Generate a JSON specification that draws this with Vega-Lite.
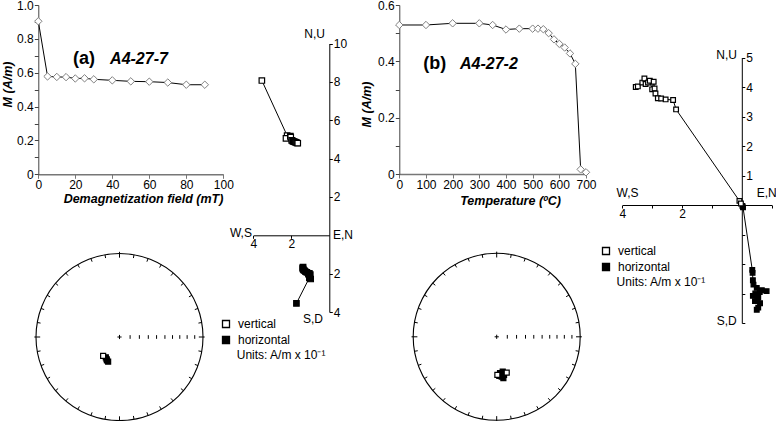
{
  "$schema": "https://vega.github.io/schema/vega-lite/v6.json",
  "width": 776,
  "height": 421,
  "autosize": "none",
  "padding": 0,
  "background": "white",
  "config": {
    "font": "Liberation Sans",
    "view": {"stroke": null},
    "axis": {"labelFont": "Liberation Sans", "labelFontSize": 12, "labelColor": "black", "grid": false, "domainColor": "black", "tickColor": "black", "titleFont": "Liberation Sans", "titleColor": "black", "labelFlush": false, "labelOverlap": false},
    "text": {"font": "Liberation Sans", "fontSize": 12, "color": "black"}
  },
  "datasets": {
    "afCurve": [
      {"field_mT": 0, "M": 0.904}, {"field_mT": 5, "M": 0.578}, {"field_mT": 10, "M": 0.575}, {"field_mT": 15, "M": 0.574},
      {"field_mT": 20, "M": 0.566}, {"field_mT": 25, "M": 0.567}, {"field_mT": 30, "M": 0.561}, {"field_mT": 40, "M": 0.555},
      {"field_mT": 50, "M": 0.549}, {"field_mT": 60, "M": 0.547}, {"field_mT": 70, "M": 0.542}, {"field_mT": 80, "M": 0.529},
      {"field_mT": 90, "M": 0.529}
    ],
    "thCurve": [
      {"T": 0, "M": 0.529}, {"T": 100, "M": 0.529}, {"T": 200, "M": 0.535}, {"T": 300, "M": 0.535}, {"T": 350, "M": 0.529},
      {"T": 400, "M": 0.513}, {"T": 450, "M": 0.516}, {"T": 500, "M": 0.516}, {"T": 520, "M": 0.516}, {"T": 540, "M": 0.514},
      {"T": 560, "M": 0.5}, {"T": 580, "M": 0.478}, {"T": 600, "M": 0.462}, {"T": 620, "M": 0.449}, {"T": 640, "M": 0.428},
      {"T": 660, "M": 0.391}, {"T": 680, "M": 0.0165}, {"T": 700, "M": 0.006}
    ],
    "zijA": [
      {"proj": "horizontal", "step": 0, "x": -1.73, "y": -3.55}, {"proj": "vertical", "step": 0, "x": -3.55, "y": 8.07},
      {"proj": "horizontal", "step": 5, "x": -1.05, "y": -2.22}, {"proj": "vertical", "step": 5, "x": -2.22, "y": 5.2},
      {"proj": "horizontal", "step": 10, "x": -0.98, "y": -2.28}, {"proj": "vertical", "step": 10, "x": -2.28, "y": 5.05},
      {"proj": "horizontal", "step": 15, "x": -1.0, "y": -2.05}, {"proj": "vertical", "step": 15, "x": -2.05, "y": 5.17},
      {"proj": "horizontal", "step": 20, "x": -1.1, "y": -2.03}, {"proj": "vertical", "step": 20, "x": -2.03, "y": 5.12},
      {"proj": "horizontal", "step": 25, "x": -1.05, "y": -1.98}, {"proj": "vertical", "step": 25, "x": -1.98, "y": 4.95},
      {"proj": "horizontal", "step": 30, "x": -1.18, "y": -1.93}, {"proj": "vertical", "step": 30, "x": -1.93, "y": 4.92},
      {"proj": "horizontal", "step": 40, "x": -1.25, "y": -1.9}, {"proj": "vertical", "step": 40, "x": -1.9, "y": 4.9},
      {"proj": "horizontal", "step": 50, "x": -1.3, "y": -1.85}, {"proj": "vertical", "step": 50, "x": -1.85, "y": 4.88},
      {"proj": "horizontal", "step": 60, "x": -1.36, "y": -1.8}, {"proj": "vertical", "step": 60, "x": -1.8, "y": 4.86},
      {"proj": "horizontal", "step": 70, "x": -1.39, "y": -1.75}, {"proj": "vertical", "step": 70, "x": -1.75, "y": 4.84},
      {"proj": "horizontal", "step": 80, "x": -1.4, "y": -1.7}, {"proj": "vertical", "step": 80, "x": -1.7, "y": 4.82},
      {"proj": "horizontal", "step": 90, "x": -1.38, "y": -1.66}, {"proj": "vertical", "step": 90, "x": -1.66, "y": 4.8}
    ],
    "zijB": [
      {"proj": "horizontal", "step": 0, "x": 0.5, "y": -3.55}, {"proj": "vertical", "step": 0, "x": -3.55, "y": 4.0},
      {"proj": "horizontal", "step": 100, "x": 0.55, "y": -3.48}, {"proj": "vertical", "step": 100, "x": -3.48, "y": 4.02},
      {"proj": "horizontal", "step": 200, "x": 0.61, "y": -3.33}, {"proj": "vertical", "step": 200, "x": -3.33, "y": 4.15},
      {"proj": "horizontal", "step": 300, "x": 0.44, "y": -3.26}, {"proj": "vertical", "step": 300, "x": -3.26, "y": 4.29},
      {"proj": "horizontal", "step": 350, "x": 0.52, "y": -3.22}, {"proj": "vertical", "step": 350, "x": -3.22, "y": 4.1},
      {"proj": "horizontal", "step": 400, "x": 0.55, "y": -3.14}, {"proj": "vertical", "step": 400, "x": -3.14, "y": 4.15},
      {"proj": "horizontal", "step": 450, "x": 0.37, "y": -3.08}, {"proj": "vertical", "step": 450, "x": -3.08, "y": 4.21},
      {"proj": "horizontal", "step": 500, "x": 0.45, "y": -3.0}, {"proj": "vertical", "step": 500, "x": -3.0, "y": 3.92},
      {"proj": "horizontal", "step": 520, "x": 0.6, "y": -2.95}, {"proj": "vertical", "step": 520, "x": -2.95, "y": 4.18},
      {"proj": "horizontal", "step": 540, "x": 0.83, "y": -2.92}, {"proj": "vertical", "step": 540, "x": -2.92, "y": 3.95},
      {"proj": "horizontal", "step": 560, "x": 0.67, "y": -2.89}, {"proj": "vertical", "step": 560, "x": -2.89, "y": 3.78},
      {"proj": "horizontal", "step": 580, "x": 0.5, "y": -2.81}, {"proj": "vertical", "step": 580, "x": -2.81, "y": 3.62},
      {"proj": "horizontal", "step": 600, "x": 0.39, "y": -2.7}, {"proj": "vertical", "step": 600, "x": -2.7, "y": 3.61},
      {"proj": "horizontal", "step": 620, "x": 0.37, "y": -2.55}, {"proj": "vertical", "step": 620, "x": -2.55, "y": 3.58},
      {"proj": "horizontal", "step": 640, "x": 0.36, "y": -2.3}, {"proj": "vertical", "step": 640, "x": -2.3, "y": 3.56},
      {"proj": "horizontal", "step": 660, "x": 0.35, "y": -2.2}, {"proj": "vertical", "step": 660, "x": -2.2, "y": 3.24},
      {"proj": "horizontal", "step": 680, "x": 0.04, "y": -0.08}, {"proj": "vertical", "step": 680, "x": -0.08, "y": 0.14},
      {"proj": "horizontal", "step": 700, "x": 0.02, "y": -0.03}, {"proj": "vertical", "step": 700, "x": -0.03, "y": 0.05}
    ],
    "stereoA": [
      {"x": -0.164, "y": -0.243, "hem": "lower"},
      {"x": -0.155, "y": -0.266, "hem": "lower"},
      {"x": -0.136, "y": -0.295, "hem": "lower"},
      {"x": -0.15, "y": -0.28, "hem": "lower"},
      {"x": -0.196, "y": -0.227, "hem": "upper"}
    ],
    "stereoB": [
      {"x": 0.04, "y": -0.436, "hem": "lower"},
      {"x": 0.072, "y": -0.416, "hem": "lower"},
      {"x": 0.088, "y": -0.456, "hem": "lower"},
      {"x": 0.06, "y": -0.476, "hem": "lower"},
      {"x": 0.031, "y": -0.468, "hem": "lower"},
      {"x": 0.08, "y": -0.496, "hem": "lower"},
      {"x": 0.12, "y": -0.428, "hem": "upper"},
      {"x": 0.008, "y": -0.456, "hem": "upper"}
    ],
    "one": [{}]
  },
  "resolve": {
    "scale": {"x": "independent", "y": "independent", "fill": "independent"},
    "axis": {"x": "independent", "y": "independent"},
    "legend": {"fill": "independent"}
  },
  "layer": [
    {
      "data": {"name": "afCurve"},
      "mark": {"type": "line", "color": "black", "strokeWidth": 1},
      "encoding": {
        "x": {"field": "field_mT", "type": "quantitative", "scale": {"domain": [0, 100], "range": [38.3, 223.3]},
          "axis": {"orient": "bottom", "offset": -246.7, "values": [0, 20, 40, 60, 80, 100], "title": "Demagnetization field (mT)", "titleFontStyle": "italic", "titleFontWeight": "bold", "titleFontSize": 12.5, "titleX": 143, "titlePadding": 2, "tickSize": 4, "labelPadding": 1, "domainColor": "#777", "tickColor": "#777", "domainWidth": 1.5}},
        "y": {"field": "M", "type": "quantitative", "scale": {"domain": [0, 1], "range": [174.3, 5]},
          "axis": {"orient": "left", "offset": -38.3, "values": [0, 0.1, 0.2, 0.3, 0.4, 0.5, 0.6, 0.7, 0.8, 0.9, 1.0], "labelExpr": "datum.value == 0 ? '0' : (round(datum.value * 10) % 2 == 0 ? format(datum.value, '.1f') : '')", "title": "M (A/m)", "titleFontStyle": "italic", "titleFontWeight": "bold", "titleFontSize": 12.5, "titleY": 84, "titlePadding": 2, "tickSize": 4, "labelPadding": 1, "domainColor": "#444", "tickColor": "#444"}}
      }
    },
    {
      "data": {"name": "afCurve"},
      "mark": {"type": "point", "shape": "diamond", "filled": true, "fill": "white", "stroke": "#808080", "strokeWidth": 1, "size": 55, "opacity": 1},
      "encoding": {
        "x": {"field": "field_mT", "type": "quantitative", "scale": {"domain": [0, 100], "range": [38.3, 223.3]}, "axis": null},
        "y": {"field": "M", "type": "quantitative", "scale": {"domain": [0, 1], "range": [174.3, 5]}, "axis": null}
      }
    },
    {
      "data": {"name": "one"},
      "mark": {"type": "text", "text": "(a)", "fontSize": 18, "fontWeight": "bold", "align": "left", "baseline": "alphabetic"},
      "encoding": {
        "x": {"datum": 18.8, "type": "quantitative", "scale": {"domain": [0, 100], "range": [38.3, 223.3]}, "axis": null},
        "y": {"datum": 0.652, "type": "quantitative", "scale": {"domain": [0, 1], "range": [174.3, 5]}, "axis": null}
      }
    },
    {
      "data": {"name": "one"},
      "mark": {"type": "text", "text": "A4-27-7", "fontSize": 16, "fontWeight": "bold", "fontStyle": "italic", "align": "left", "baseline": "alphabetic"},
      "encoding": {
        "x": {"datum": 38.8, "type": "quantitative", "scale": {"domain": [0, 100], "range": [38.3, 223.3]}, "axis": null},
        "y": {"datum": 0.652, "type": "quantitative", "scale": {"domain": [0, 1], "range": [174.3, 5]}, "axis": null}
      }
    },
    {
      "data": {"name": "thCurve"},
      "mark": {"type": "line", "color": "black", "strokeWidth": 1},
      "encoding": {
        "x": {"field": "T", "type": "quantitative", "scale": {"domain": [0, 700], "range": [399.3, 586]},
          "axis": {"orient": "bottom", "offset": -247, "values": [0, 100, 200, 300, 400, 500, 600, 700], "title": "Temperature (ºC)", "titleFontStyle": "italic", "titleFontWeight": "bold", "titleFontSize": 12.5, "titleX": 510, "titlePadding": 4, "tickSize": 4, "labelPadding": 1, "domainColor": "#777", "tickColor": "#777", "domainWidth": 1.5}},
        "y": {"field": "M", "type": "quantitative", "scale": {"domain": [0, 0.6], "range": [174, 5]},
          "axis": {"orient": "left", "offset": -399.3, "values": [0, 0.1, 0.2, 0.3, 0.4, 0.5, 0.6], "labelExpr": "datum.value == 0 ? '0' : (round(datum.value * 10) % 2 == 0 ? format(datum.value, '.1f') : '')", "title": "M (A/m)", "titleFontStyle": "italic", "titleFontWeight": "bold", "titleFontSize": 12.5, "titleY": 104, "titlePadding": 4, "tickSize": 4, "labelPadding": 1, "domainColor": "#444", "tickColor": "#444"}}
      }
    },
    {
      "data": {"name": "thCurve"},
      "mark": {"type": "point", "shape": "diamond", "filled": true, "fill": "white", "stroke": "#808080", "strokeWidth": 1, "size": 55, "opacity": 1},
      "encoding": {
        "x": {"field": "T", "type": "quantitative", "scale": {"domain": [0, 700], "range": [399.3, 586]}, "axis": null},
        "y": {"field": "M", "type": "quantitative", "scale": {"domain": [0, 0.6], "range": [174, 5]}, "axis": null}
      }
    },
    {
      "data": {"name": "one"},
      "mark": {"type": "text", "text": "(b)", "fontSize": 18, "fontWeight": "bold", "align": "left", "baseline": "alphabetic"},
      "encoding": {
        "x": {"datum": 90, "type": "quantitative", "scale": {"domain": [0, 700], "range": [399.3, 586]}, "axis": null},
        "y": {"datum": 0.373, "type": "quantitative", "scale": {"domain": [0, 0.6], "range": [174, 5]}, "axis": null}
      }
    },
    {
      "data": {"name": "one"},
      "mark": {"type": "text", "text": "A4-27-2", "fontSize": 16, "fontWeight": "bold", "fontStyle": "italic", "align": "left", "baseline": "alphabetic"},
      "encoding": {
        "x": {"datum": 227.6, "type": "quantitative", "scale": {"domain": [0, 700], "range": [399.3, 586]}, "axis": null},
        "y": {"datum": 0.373, "type": "quantitative", "scale": {"domain": [0, 0.6], "range": [174, 5]}, "axis": null}
      }
    },
    {
      "data": {"name": "zijA"},
      "mark": {"type": "line", "color": "black", "strokeWidth": 1},
      "encoding": {
        "x": {"field": "x", "type": "quantitative", "scale": {"domain": [-4, 0], "range": [253.3, 329.3]},
          "axis": {"orient": "bottom", "offset": -185.7, "values": [-4, -2], "labelExpr": "'' + abs(datum.value)", "title": null, "tickSize": 3, "labelPadding": 0}},
        "y": {"field": "y", "type": "quantitative", "scale": {"domain": [-4, 10], "range": [312, 43.5]},
          "axis": {"orient": "right", "offset": -446.7, "values": [-4, -2, 2, 4, 6, 8, 10], "labelExpr": "'' + abs(datum.value)", "title": null, "tickSize": 3, "labelPadding": 1}},
        "detail": {"field": "proj", "type": "nominal"},
        "order": {"field": "step", "type": "quantitative"}
      }
    },
    {
      "data": {"name": "zijA"},
      "mark": {"type": "point", "shape": "square", "filled": true, "stroke": "black", "strokeWidth": 1.2, "size": 30, "opacity": 1},
      "encoding": {
        "x": {"field": "x", "type": "quantitative", "scale": {"domain": [-4, 0], "range": [253.3, 329.3]}, "axis": null},
        "y": {"field": "y", "type": "quantitative", "scale": {"domain": [-4, 10], "range": [312, 43.5]}, "axis": null},
        "fill": {"field": "proj", "type": "nominal", "scale": {"domain": ["vertical", "horizontal"], "range": ["white", "black"]},
          "legend": {"orient": "none", "legendX": 220, "legendY": 318, "title": null, "padding": 0, "labelFontSize": 12, "labelFont": "Liberation Sans", "labelColor": "black", "symbolType": "square", "symbolSize": 49, "symbolStrokeColor": "black", "symbolStrokeWidth": 1.3, "rowPadding": 2, "labelOffset": 6}}
      }
    },
    {
      "data": {"name": "one"},
      "mark": {"type": "text", "text": "N,U", "align": "right", "baseline": "middle"},
      "encoding": {
        "x": {"datum": -0.23, "type": "quantitative", "scale": {"domain": [-4, 0], "range": [253.3, 329.3]}, "axis": null},
        "y": {"datum": 10.5, "type": "quantitative", "scale": {"domain": [-4, 10], "range": [312, 43.5]}, "axis": null}
      }
    },
    {
      "data": {"name": "one"},
      "mark": {"type": "text", "text": "W,S", "align": "right", "baseline": "middle"},
      "encoding": {
        "x": {"datum": -4.07, "type": "quantitative", "scale": {"domain": [-4, 0], "range": [253.3, 329.3]}, "axis": null},
        "y": {"datum": 0.12, "type": "quantitative", "scale": {"domain": [-4, 10], "range": [312, 43.5]}, "axis": null}
      }
    },
    {
      "data": {"name": "one"},
      "mark": {"type": "text", "text": "E,N", "align": "left", "baseline": "middle"},
      "encoding": {
        "x": {"datum": 0.19, "type": "quantitative", "scale": {"domain": [-4, 0], "range": [253.3, 329.3]}, "axis": null},
        "y": {"datum": 0.0, "type": "quantitative", "scale": {"domain": [-4, 10], "range": [312, 43.5]}, "axis": null}
      }
    },
    {
      "data": {"name": "one"},
      "mark": {"type": "text", "text": "S,D", "align": "right", "baseline": "middle"},
      "encoding": {
        "x": {"datum": -0.33, "type": "quantitative", "scale": {"domain": [-4, 0], "range": [253.3, 329.3]}, "axis": null},
        "y": {"datum": -4.36, "type": "quantitative", "scale": {"domain": [-4, 10], "range": [312, 43.5]}, "axis": null}
      }
    },
    {
      "data": {"name": "one"},
      "mark": {"type": "text", "text": "Units: A/m x 10⁻¹", "align": "left", "baseline": "middle"},
      "encoding": {
        "x": {"datum": -4.87, "type": "quantitative", "scale": {"domain": [-4, 0], "range": [253.3, 329.3]}, "axis": null},
        "y": {"datum": -6.25, "type": "quantitative", "scale": {"domain": [-4, 10], "range": [312, 43.5]}, "axis": null}
      }
    },
    {
      "data": {"name": "zijB"},
      "mark": {"type": "line", "color": "black", "strokeWidth": 1},
      "encoding": {
        "x": {"field": "x", "type": "quantitative", "scale": {"domain": [-4, 1], "range": [622.3, 771.7]},
          "axis": {"orient": "bottom", "offset": -216, "values": [-4, -3, -2, -1, 1], "labelExpr": "datum.value == -4 || datum.value == -2 ? '' + abs(datum.value) : ''", "title": null, "tickSize": 3, "labelPadding": 0}},
        "y": {"field": "y", "type": "quantitative", "scale": {"domain": [-4, 5], "range": [323, 57.5]},
          "axis": {"orient": "right", "offset": -34.2, "values": [-4, -3, -2, -1, 1, 2, 3, 4, 5], "labelExpr": "datum.value > 0 ? '' + datum.value : ''", "title": null, "tickSize": 3, "labelPadding": 1}},
        "detail": {"field": "proj", "type": "nominal"},
        "order": {"field": "step", "type": "quantitative"}
      }
    },
    {
      "data": {"name": "zijB"},
      "mark": {"type": "point", "shape": "square", "filled": true, "stroke": "black", "strokeWidth": 1.2, "size": 22, "opacity": 1},
      "encoding": {
        "x": {"field": "x", "type": "quantitative", "scale": {"domain": [-4, 1], "range": [622.3, 771.7]}, "axis": null},
        "y": {"field": "y", "type": "quantitative", "scale": {"domain": [-4, 5], "range": [323, 57.5]}, "axis": null},
        "fill": {"field": "proj", "type": "nominal", "scale": {"domain": ["vertical", "horizontal"], "range": ["white", "black"]},
          "legend": {"orient": "none", "legendX": 600, "legendY": 245, "title": null, "padding": 0, "labelFontSize": 12, "labelFont": "Liberation Sans", "labelColor": "black", "symbolType": "square", "symbolSize": 49, "symbolStrokeColor": "black", "symbolStrokeWidth": 1.3, "rowPadding": 2, "labelOffset": 6}}
      }
    },
    {
      "data": {"name": "one"},
      "mark": {"type": "text", "text": "N,U", "align": "right", "baseline": "middle"},
      "encoding": {
        "x": {"datum": -0.16, "type": "quantitative", "scale": {"domain": [-4, 1], "range": [622.3, 771.7]}, "axis": null},
        "y": {"datum": 5.08, "type": "quantitative", "scale": {"domain": [-4, 5], "range": [323, 57.5]}, "axis": null}
      }
    },
    {
      "data": {"name": "one"},
      "mark": {"type": "text", "text": "W,S", "align": "left", "baseline": "middle"},
      "encoding": {
        "x": {"datum": -4.19, "type": "quantitative", "scale": {"domain": [-4, 1], "range": [622.3, 771.7]}, "axis": null},
        "y": {"datum": 0.42, "type": "quantitative", "scale": {"domain": [-4, 5], "range": [323, 57.5]}, "axis": null}
      }
    },
    {
      "data": {"name": "one"},
      "mark": {"type": "text", "text": "E,N", "align": "left", "baseline": "middle"},
      "encoding": {
        "x": {"datum": 0.5, "type": "quantitative", "scale": {"domain": [-4, 1], "range": [622.3, 771.7]}, "axis": null},
        "y": {"datum": 0.42, "type": "quantitative", "scale": {"domain": [-4, 5], "range": [323, 57.5]}, "axis": null}
      }
    },
    {
      "data": {"name": "one"},
      "mark": {"type": "text", "text": "S,D", "align": "right", "baseline": "middle"},
      "encoding": {
        "x": {"datum": -0.17, "type": "quantitative", "scale": {"domain": [-4, 1], "range": [622.3, 771.7]}, "axis": null},
        "y": {"datum": -3.92, "type": "quantitative", "scale": {"domain": [-4, 5], "range": [323, 57.5]}, "axis": null}
      }
    },
    {
      "data": {"name": "one"},
      "mark": {"type": "text", "text": "Units: A/m x 10⁻¹", "align": "left", "baseline": "middle"},
      "encoding": {
        "x": {"datum": -4.19, "type": "quantitative", "scale": {"domain": [-4, 1], "range": [622.3, 771.7]}, "axis": null},
        "y": {"datum": -2.6, "type": "quantitative", "scale": {"domain": [-4, 5], "range": [323, 57.5]}, "axis": null}
      }
    },
    {
      "data": {"name": "one"},
      "mark": {"type": "point", "shape": "circle", "filled": false, "stroke": "black", "strokeWidth": 1.1, "size": 27889, "opacity": 1},
      "encoding": {
        "x": {"datum": 0, "type": "quantitative", "scale": {"domain": [-1, 1], "range": [36, 203]}, "axis": null},
        "y": {"datum": 0, "type": "quantitative", "scale": {"domain": [-1, 1], "range": [420.5, 253.5]}, "axis": null}
      }
    },
    {
      "data": {"name": "one"},
      "mark": {"type": "point", "shape": "M0.1736,-0.9848L0.1667,-0.9454M0.342,-0.9397L0.3283,-0.9021M0.5,-0.866L0.48,-0.8314M0.6428,-0.766L0.6171,-0.7354M0.766,-0.6428L0.7354,-0.6171M0.866,-0.5L0.8314,-0.48M0.9397,-0.342L0.9021,-0.3283M0.9848,-0.1736L0.9454,-0.1667M0.1736,0.9848L0.1667,0.9454M0.342,0.9397L0.3283,0.9021M0.5,0.866L0.48,0.8314M0.6428,0.766L0.6171,0.7354M0.766,0.6428L0.7354,0.6171M0.866,0.5L0.8314,0.48M0.9397,0.342L0.9021,0.3283M0.9848,0.1736L0.9454,0.1667M-0.1736,0.9848L-0.1667,0.9454M-0.342,0.9397L-0.3283,0.9021M-0.5,0.866L-0.48,0.8314M-0.6428,0.766L-0.6171,0.7354M-0.766,0.6428L-0.7354,0.6171M-0.866,0.5L-0.8314,0.48M-0.9397,0.342L-0.9021,0.3283M-0.9848,0.1736L-0.9454,0.1667M-0.1736,-0.9848L-0.1667,-0.9454M-0.342,-0.9397L-0.3283,-0.9021M-0.5,-0.866L-0.48,-0.8314M-0.6428,-0.766L-0.6171,-0.7354M-0.766,-0.6428L-0.7354,-0.6171M-0.866,-0.5L-0.8314,-0.48M-0.9397,-0.342L-0.9021,-0.3283M-0.9848,-0.1736L-0.9454,-0.1667M0,-1.02L0,-0.95M1.02,0L0.95,0M0,1.02L0,0.95M-1.02,0L-0.95,0M0.127,-0.022L0.127,0.022M0.238,-0.022L0.238,0.022M0.345,-0.022L0.345,0.022M0.444,-0.022L0.444,0.022M0.544,-0.022L0.544,0.022M0.635,-0.022L0.635,0.022M0.722,-0.022L0.722,0.022M0.81,-0.022L0.81,0.022M0.901,-0.022L0.901,0.022M-0.025,0L0.025,0M0,-0.025L0,0.025", "filled": false, "stroke": "black", "strokeWidth": 1, "size": 27889, "opacity": 1},
      "encoding": {
        "x": {"datum": 0, "type": "quantitative", "scale": {"domain": [-1, 1], "range": [36, 203]}, "axis": null},
        "y": {"datum": 0, "type": "quantitative", "scale": {"domain": [-1, 1], "range": [420.5, 253.5]}, "axis": null}
      }
    },
    {
      "data": {"name": "stereoA"},
      "mark": {"type": "point", "shape": "square", "filled": true, "stroke": "black", "strokeWidth": 1.2, "size": 25, "opacity": 1},
      "encoding": {
        "x": {"field": "x", "type": "quantitative", "scale": {"domain": [-1, 1], "range": [36, 203]}, "axis": null},
        "y": {"field": "y", "type": "quantitative", "scale": {"domain": [-1, 1], "range": [420.5, 253.5]}, "axis": null},
        "fill": {"field": "hem", "type": "nominal", "scale": {"domain": ["upper", "lower"], "range": ["white", "black"]}, "legend": null}
      }
    },
    {
      "data": {"name": "one"},
      "mark": {"type": "point", "shape": "circle", "filled": false, "stroke": "black", "strokeWidth": 1.1, "size": 27889, "opacity": 1},
      "encoding": {
        "x": {"datum": 0, "type": "quantitative", "scale": {"domain": [-1, 1], "range": [413.2, 580.2]}, "axis": null},
        "y": {"datum": 0, "type": "quantitative", "scale": {"domain": [-1, 1], "range": [420.3, 253.3]}, "axis": null}
      }
    },
    {
      "data": {"name": "one"},
      "mark": {"type": "point", "shape": "M0.1736,-0.9848L0.1667,-0.9454M0.342,-0.9397L0.3283,-0.9021M0.5,-0.866L0.48,-0.8314M0.6428,-0.766L0.6171,-0.7354M0.766,-0.6428L0.7354,-0.6171M0.866,-0.5L0.8314,-0.48M0.9397,-0.342L0.9021,-0.3283M0.9848,-0.1736L0.9454,-0.1667M0.1736,0.9848L0.1667,0.9454M0.342,0.9397L0.3283,0.9021M0.5,0.866L0.48,0.8314M0.6428,0.766L0.6171,0.7354M0.766,0.6428L0.7354,0.6171M0.866,0.5L0.8314,0.48M0.9397,0.342L0.9021,0.3283M0.9848,0.1736L0.9454,0.1667M-0.1736,0.9848L-0.1667,0.9454M-0.342,0.9397L-0.3283,0.9021M-0.5,0.866L-0.48,0.8314M-0.6428,0.766L-0.6171,0.7354M-0.766,0.6428L-0.7354,0.6171M-0.866,0.5L-0.8314,0.48M-0.9397,0.342L-0.9021,0.3283M-0.9848,0.1736L-0.9454,0.1667M-0.1736,-0.9848L-0.1667,-0.9454M-0.342,-0.9397L-0.3283,-0.9021M-0.5,-0.866L-0.48,-0.8314M-0.6428,-0.766L-0.6171,-0.7354M-0.766,-0.6428L-0.7354,-0.6171M-0.866,-0.5L-0.8314,-0.48M-0.9397,-0.342L-0.9021,-0.3283M-0.9848,-0.1736L-0.9454,-0.1667M0,-1.02L0,-0.95M1.02,0L0.95,0M0,1.02L0,0.95M-1.02,0L-0.95,0M0.127,-0.022L0.127,0.022M0.238,-0.022L0.238,0.022M0.345,-0.022L0.345,0.022M0.444,-0.022L0.444,0.022M0.544,-0.022L0.544,0.022M0.635,-0.022L0.635,0.022M0.722,-0.022L0.722,0.022M0.81,-0.022L0.81,0.022M0.901,-0.022L0.901,0.022M-0.025,0L0.025,0M0,-0.025L0,0.025", "filled": false, "stroke": "black", "strokeWidth": 1, "size": 27889, "opacity": 1},
      "encoding": {
        "x": {"datum": 0, "type": "quantitative", "scale": {"domain": [-1, 1], "range": [413.2, 580.2]}, "axis": null},
        "y": {"datum": 0, "type": "quantitative", "scale": {"domain": [-1, 1], "range": [420.3, 253.3]}, "axis": null}
      }
    },
    {
      "data": {"name": "stereoB"},
      "mark": {"type": "point", "shape": "square", "filled": true, "stroke": "black", "strokeWidth": 1.2, "size": 25, "opacity": 1},
      "encoding": {
        "x": {"field": "x", "type": "quantitative", "scale": {"domain": [-1, 1], "range": [413.2, 580.2]}, "axis": null},
        "y": {"field": "y", "type": "quantitative", "scale": {"domain": [-1, 1], "range": [420.3, 253.3]}, "axis": null},
        "fill": {"field": "hem", "type": "nominal", "scale": {"domain": ["upper", "lower"], "range": ["white", "black"]}, "legend": null}
      }
    }
  ]
}
